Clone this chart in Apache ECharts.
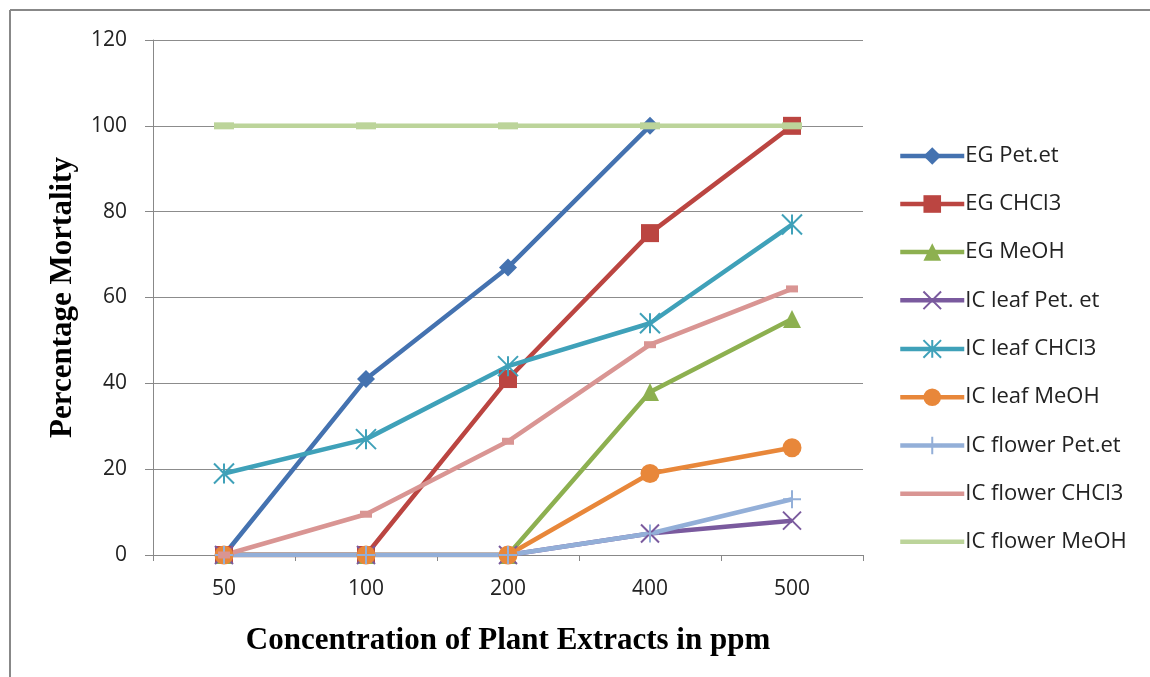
<!DOCTYPE html>
<html><head><meta charset="utf-8">
<script src="https://cdn.jsdelivr.net/npm/echarts@6/dist/echarts.min.js"></script>
<style>html,body{margin:0;padding:0;background:#fff}#c{width:1150px;height:677px}</style>
</head><body><div id="c"></div>
<script>
const categories = ['50','100','200','400','500'];
const egPetEt = [0, 41, 67, 100, null];
const egChcl3 = [0, 0, 41, 75, 100];
const egMeoh = [0, 0, 0, 38, 55];
const icLeafPetEt = [0, 0, 0, 5, 8];
const icLeafChcl3 = [19, 27, 44, 54, 77];
const icLeafMeoh = [0, 0, 0, 19, 25];
const icFlowerPetEt = [0, 0, 0, 5, 13];
const icFlowerChcl3 = [0, 9.5, 26.5, 49, 62];
const icFlowerMeoh = [100, 100, 100, 100, 100];
const yTicks = [0, 20, 40, 60, 80, 100, 120];

const seriesDefs = [
  {name:'EG Pet.et', data:egPetEt, color:'#4472B0', symbol:'diamond', size:18},
  {name:'EG CHCl3', data:egChcl3, color:'#BB4541', symbol:'rect', size:18},
  {name:'EG MeOH', data:egMeoh, color:'#8DB050', symbol:'triangle', size:18},
  {name:'IC leaf Pet. et', data:icLeafPetEt, color:'#7A5A9E', symbol:'path://M0,0L10,10M10,0L0,10', size:18, stroke:true},
  {name:'IC leaf CHCl3', data:icLeafChcl3, color:'#3FA1B9', symbol:'path://M0,0L10,10M10,0L0,10M5,0L5,10', size:20, stroke:true},
  {name:'IC leaf MeOH', data:icLeafMeoh, color:'#E8873A', symbol:'circle', size:19},
  {name:'IC flower Pet.et', data:icFlowerPetEt, color:'#93AFD8', symbol:'path://M0,5L10,5M5,0L5,10', size:18, stroke:true},
  {name:'IC flower CHCl3', data:icFlowerChcl3, color:'#D99593', symbol:'rect', size:[12,7], pointOnly:true},
  {name:'IC flower MeOH', data:icFlowerMeoh, color:'#BCD49A', symbol:'rect', size:[20,7], pointOnly:true}
];

const lineIcon = 'path://M0,0L0.01,0L0,0.01Z M0,8.75L64,8.75L64,13.25L0,13.25Z M0,22L0.01,22L0,21.99Z';

const series = seriesDefs.map(d => ({
  name: d.name, type: 'line', data: d.data,
  symbol: d.symbol, symbolSize: d.size,
  showAllSymbol: true,
  connectNulls: false,
  lineStyle: {color: d.color, width: 4.5},
  itemStyle: d.stroke ? {color: 'none', borderColor: d.color, borderWidth: 2} : {color: d.color, borderColor: d.color, borderWidth: 0},
  emphasis: {disabled: true},
  z: 2
}));

const chart = echarts.init(document.getElementById('c'));
chart.setOption({
  animation: false,
  backgroundColor: '#fff',
  grid: {left: 153, right: 287, top: 40, bottom: 122, containLabel: false},
  xAxis: {
    type: 'category', data: categories, boundaryGap: true,
    axisLine: {lineStyle: {color: '#888', width: 1}},
    axisTick: {show: true, length: 6, lineStyle: {color: '#888'}, alignWithLabel: false},
    axisLabel: {color: '#222', fontSize: 21, fontFamily: 'Open Sans', margin: 24},
    name: 'Concentration of Plant Extracts in ppm',
    nameLocation: 'middle', nameGap: 70,
    nameTextStyle: {fontFamily: 'Liberation Serif', fontWeight: 'bold', fontSize: 31, color: '#000'}
  },
  yAxis: {
    type: 'value', min: 0, max: 120, interval: 20,
    axisLine: {show: true, lineStyle: {color: '#888', width: 1}},
    axisTick: {show: true, length: 8, lineStyle: {color: '#888'}},
    splitLine: {lineStyle: {color: '#8c8c8c', width: 1}},
    axisLabel: {color: '#222', fontSize: 21, fontFamily: 'Open Sans', margin: 26,
      formatter: v => yTicks.indexOf(v) >= 0 ? String(v) : ''},
    name: 'Percentage Mortality', nameLocation: 'middle', nameGap: 75, nameRotate: 90,
    nameTextStyle: {fontFamily: 'Liberation Serif', fontWeight: 'bold', fontSize: 31, color: '#000'}
  },
  legend: {
    orient: 'vertical', left: 893, top: 140, itemGap: 26,
    itemWidth: 64, itemHeight: 22,
    lineStyle: {width: 4.5},
    textStyle: {fontSize: 22, fontFamily: 'Open Sans', color: '#222', padding: [0,0,0,-4]},
    data: seriesDefs.map(d => d.pointOnly ? {name: d.name, icon: lineIcon, itemStyle: {color: d.color, borderWidth: 0}} : d.name)
  },
  graphic: [
    {type: 'line', shape: {x1: 10, y1: 10, x2: 1150, y2: 10}, style: {stroke: '#888', lineWidth: 2}},
    {type: 'line', shape: {x1: 10, y1: 10, x2: 10, y2: 677}, style: {stroke: '#888', lineWidth: 2}}
  ],
  series: series
});
</script></body></html>
